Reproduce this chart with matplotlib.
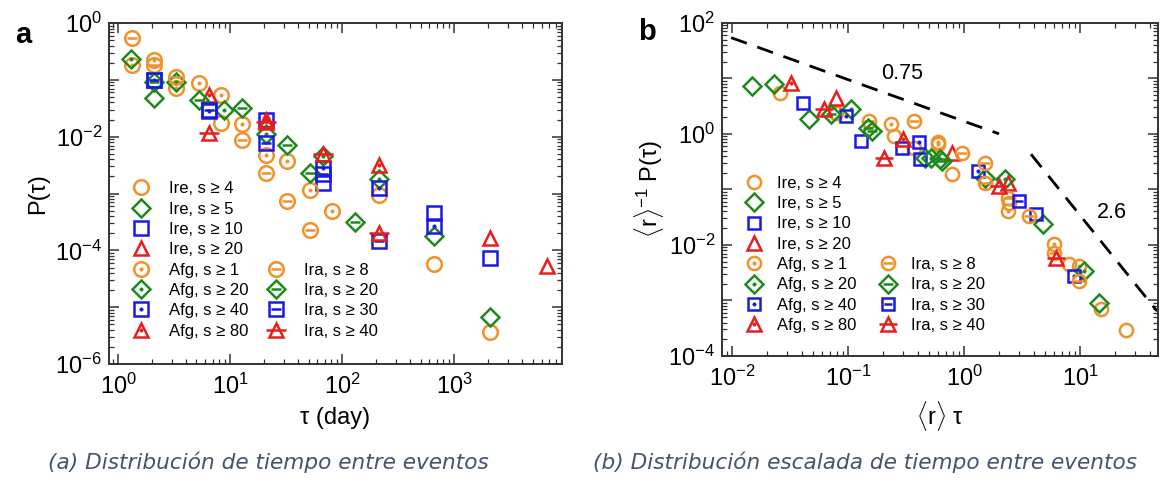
import matplotlib
matplotlib.use('Agg')
import matplotlib.pyplot as plt
from matplotlib.legend_handler import HandlerTuple
from matplotlib.ticker import LogLocator, FuncFormatter, NullFormatter
import numpy as np

plt.rcParams['font.family'] = ['Liberation Sans', 'DejaVu Sans']
plt.rcParams['mathtext.fontset'] = 'custom'
plt.rcParams['mathtext.rm'] = 'Liberation Sans'
plt.rcParams['mathtext.it'] = 'Liberation Sans:italic'

# colours
orange = '#F0922B'
green = '#1E8A1E'
blue = '#1A1AE6'
red = '#E61E1E'
caption_col = '#44546A'

# ---------------- panel a : P(tau) vs tau (day)
ire4_tau = [8.3, 211, 654, 2100]
ire4_p = [0.0174, 0.00096, 5.7e-5, 3.6e-6]
ire5_tau = [2.1, 654, 2100]
ire5_p = [0.048, 1.78e-4, 6.6e-6]
ire10_tau = [66.7, 654, 2100]
ire10_p = [0.00155, 4.6e-4, 7.4e-5]
ire20_tau = [2100, 6750]
ire20_p = [1.67e-4, 5.3e-5]

afg1_tau = [1.33, 2.1, 3.3, 5.3, 8.3, 12.8, 20.8, 32.4, 52, 81]
afg1_p = [0.18, 0.22, 0.071, 0.087, 0.055, 0.017, 0.0048, 0.0037, 0.00117, 0.00049]
afg20_tau = [1.3, 3.3, 8.8, 20.8, 66.7, 211]
afg20_p = [0.23, 0.093, 0.03, 0.011, 0.0045, 0.0018]
afg40_tau = [2.1, 6.5, 20.8, 66.7, 211, 654]
afg40_p = [0.1, 0.028, 0.02, 0.0028, 0.00126, 2.7e-4]
afg80_tau = [6.5, 20.8, 211]
afg80_p = [0.055, 0.02, 0.0032]

ira8_tau = [1.33, 2.1, 3.3, 12.8, 20.8, 32.4, 52]
ira8_p = [0.54, 0.18, 0.114, 0.0089, 0.0023, 0.00074, 0.00023]
ira20_tau = [2.1, 5.3, 12.8, 32.4, 52, 131]
ira20_p = [0.09, 0.045, 0.032, 0.0072, 0.0023, 0.00031]
ira30_tau = [2.1, 6.5, 20.8, 66.7, 211]
ira30_p = [0.1, 0.03, 0.0079, 0.0022, 1.45e-4]
ira40_tau = [6.5, 20.8, 66.7, 211]
ira40_p = [0.0117, 0.018, 0.005, 2.0e-4]

# ---------------- panel b : scaled
ire4_x = [0.0257, 0.0785, 0.248, 0.368, 0.78, 2.46, 8.05, 15.2, 25]
ire4_y = [5.5, 2.4, 0.92, 0.567, 0.19, 0.058, 0.0045, 7.1e-4, 2.9e-4]
ire5_x = [0.0147, 0.023, 0.046, 0.46, 1.5, 4.75, 14.6]
ire5_y = [7.3, 7.9, 1.84, 0.374, 0.163, 0.0236, 9.1e-4]
ire10_x = [0.041, 0.128, 0.292, 0.42, 4.17]
ire10_y = [3.66, 0.75, 0.567, 0.35, 0.036]
ire20_x = [0.0785, 0.78, 2.38]
ire20_y = [4.5, 0.46, 0.133]

afg1_x = [0.232, 0.60, 0.6, 2.38, 6.0, 9.8]
afg1_y = [1.5, 0.65, 0.70, 0.041, 0.0103, 0.0042]
afg20_x = [0.105, 0.52, 2.23, 10.8]
afg20_y = [2.8, 0.37, 0.152, 0.0034]
afg40_x = [0.096, 0.406, 1.32, 8.9]
afg40_y = [2.1, 0.70, 0.215, 0.0028]
afg80_x = [0.032, 0.30]
afg80_y = [8.4, 0.8]

ira8_x = [0.151, 0.368, 0.95, 1.5, 1.5, 2.38, 3.66, 6.0, 9.8]
ira8_y = [1.71, 1.71, 0.46, 0.30, 0.133, 0.071, 0.0335, 0.0073, 0.0022]
ira20_x = [0.071, 0.147, 0.16, 0.62, 0.64]
ira20_y = [2.26, 1.3, 1.13, 0.35, 0.33]
ira30_x = [3.0]
ira30_y = [0.062]
ira40_x = [0.062, 0.204, 2.0, 6.2]
ira40_y = [2.8, 0.374, 0.116, 0.0059]

# dashed guide lines (x ends, exponent)
guide1_x = [0.0098, 2.0]
guide1_exp = 0.75
guide1_y0 = 54.0
guide2_x = [3.77, 46.0]
guide2_exp = 2.6
guide2_y0 = 0.43

labels_ire = ['Ire, s ≥ 4', 'Ire, s ≥ 5', 'Ire, s ≥ 10', 'Ire, s ≥ 20']
labels_afg_a = ['Afg, s ≥ 1', 'Afg, s ≥ 20', 'Afg, s ≥ 40', 'Afg, s ≥ 80']
labels_ira = ['Ira, s ≥ 8', 'Ira, s ≥ 20', 'Ira, s ≥ 30', 'Ira, s ≥ 40']

##############################

def draw(ax, x, y, color, marker, inner=None, ms=10):
    h = ax.plot(x, y, ls='none', marker=marker, ms=ms, mfc='none', mec=color, mew=1.8)[0]
    if inner is None:
        return h
    if inner == 'dot':
        h2 = ax.plot(x, y, ls='none', marker='o', ms=2.4, mfc=color, mec=color, mew=0.5)[0]
    else:
        w = ms * 1.35 if marker == '^' else ms * 0.75
        h2 = ax.plot(x, y, ls='none', marker='_', ms=w, mew=1.8, color=color)[0]
    return (h, h2)

def style_axes(ax, xlim, ylim, ylab_step):
    ax.set_xscale('log')
    ax.set_yscale('log')
    ax.set_xlim(*xlim)
    ax.set_ylim(*ylim)
    ax.xaxis.set_major_locator(LogLocator(base=10, numticks=20))
    ax.yaxis.set_major_locator(LogLocator(base=10, numticks=20))
    ax.xaxis.set_minor_locator(LogLocator(base=10, subs=np.arange(2, 10), numticks=50))
    ax.yaxis.set_minor_locator(LogLocator(base=10, subs=np.arange(2, 10), numticks=50))
    ax.xaxis.set_major_formatter(FuncFormatter(lambda v, p: '$10^{%d}$' % round(np.log10(v))))
    ax.yaxis.set_major_formatter(FuncFormatter(
        lambda v, p: '$10^{%d}$' % round(np.log10(v)) if round(np.log10(v)) % ylab_step == 0 else ''))
    ax.xaxis.set_minor_formatter(NullFormatter())
    ax.yaxis.set_minor_formatter(NullFormatter())
    ax.tick_params(which='both', direction='in', top=True, right=True, labelsize=17, color='#333333')
    ax.tick_params(which='major', length=7, width=1.1)
    ax.tick_params(which='minor', length=3.5, width=0.9)
    ax.tick_params(axis='x', pad=7)
    ax.tick_params(axis='y', pad=5)
    for s in ax.spines.values():
        s.set_linewidth(1.4)
        s.set_color('#333333')

def make_legend(ax, handles, labels, anchor, tpad, cspace):
    blank = plt.Line2D([], [], ls='none', marker='none')
    hs = list(handles[:8]) + [blank] * 4 + list(handles[8:])
    ls = list(labels[:8]) + [''] * 4 + list(labels[8:])
    ax.legend(hs, ls, ncol=2, loc='upper left', bbox_to_anchor=anchor, frameon=False,
              fontsize=12, numpoints=1, handlelength=1.2, handletextpad=tpad,
              columnspacing=cspace, labelspacing=0.32, borderpad=0, borderaxespad=0,
              handler_map={tuple: HandlerTuple(ndivide=1)})

##############################

fig = plt.figure(figsize=(11.61, 4.90), dpi=100)
ax1 = fig.add_axes([0.0939, 0.257, 0.390, 0.696])
ax2 = fig.add_axes([0.622, 0.2735, 0.3755, 0.680])

all_labels = labels_ire + labels_afg_a + labels_ira

h = []
h.append(draw(ax1, ire4_tau, ire4_p, orange, 'o', ms=10.5))
h.append(draw(ax1, ire5_tau, ire5_p, green, 'D', ms=9.5))
h.append(draw(ax1, ire10_tau, ire10_p, blue, 's', ms=9.5))
h.append(draw(ax1, ire20_tau, ire20_p, red, '^', ms=10.5))
h.append(draw(ax1, afg1_tau, afg1_p, orange, 'o', 'dot', ms=10.5))
h.append(draw(ax1, afg20_tau, afg20_p, green, 'D', 'dot', ms=9.5))
h.append(draw(ax1, afg40_tau, afg40_p, blue, 's', 'dot', ms=9.5))
h.append(draw(ax1, afg80_tau, afg80_p, red, '^', 'dot', ms=10.5))
h.append(draw(ax1, ira8_tau, ira8_p, orange, 'o', 'line', ms=10.5))
h.append(draw(ax1, ira20_tau, ira20_p, green, 'D', 'line', ms=9.5))
h.append(draw(ax1, ira30_tau, ira30_p, blue, 's', 'line', ms=9.5))
h.append(draw(ax1, ira40_tau, ira40_p, red, '^', 'line', ms=10.5))
style_axes(ax1, (0.83, 9100), (1e-6, 1), 2)
make_legend(ax1, h, all_labels, (0.049, 0.536), 1.05, 1.08)
ax1.set_xlabel('τ (day)', fontsize=17, labelpad=6)
ax1.set_ylabel('P(τ)', fontsize=17, labelpad=4)

h = []
h.append(draw(ax2, ire4_x, ire4_y, orange, 'o', ms=9.5))
h.append(draw(ax2, ire5_x, ire5_y, green, 'D', ms=9))
h.append(draw(ax2, ire10_x, ire10_y, blue, 's', ms=8.5))
h.append(draw(ax2, ire20_x, ire20_y, red, '^', ms=9.5))
h.append(draw(ax2, afg1_x, afg1_y, orange, 'o', 'dot', ms=9.5))
h.append(draw(ax2, afg20_x, afg20_y, green, 'D', 'dot', ms=9))
h.append(draw(ax2, afg40_x, afg40_y, blue, 's', 'dot', ms=8.5))
h.append(draw(ax2, afg80_x, afg80_y, red, '^', 'dot', ms=9.5))
h.append(draw(ax2, ira8_x, ira8_y, orange, 'o', 'line', ms=9.5))
h.append(draw(ax2, ira20_x, ira20_y, green, 'D', 'line', ms=9))
h.append(draw(ax2, ira30_x, ira30_y, blue, 's', 'line', ms=8.5))
h.append(draw(ax2, ira40_x, ira40_y, red, '^', 'line', ms=9.5))

gx1 = np.array(guide1_x)
ax2.plot(gx1, guide1_y0 * (gx1 / gx1[0]) ** (-guide1_exp), color='black', lw=2, ls=(0, (6, 4)))
gx2 = np.array(guide2_x)
ax2.plot(gx2, guide2_y0 * (gx2 / gx2[0]) ** (-guide2_exp), color='black', lw=2, ls=(0, (6, 4)))
ax2.text(0.294, 12, '0.75', fontsize=15.5, ha='center', va='center')
ax2.text(18.9, 0.038, '2.6', fontsize=15.5, ha='center', va='center')

style_axes(ax2, (0.0082, 47), (1e-4, 100), 2)
make_legend(ax2, h, all_labels, (0.05, 0.541), 0.8, 1.26)
ax2.set_xlabel(r'$\langle$r$\rangle$ τ', fontsize=17, labelpad=6)
ax2.set_ylabel(r'$\langle$r$\rangle^{-1}$ P(τ)', fontsize=17, labelpad=2)

fig.text(0.020, 0.929, 'a', fontsize=21, fontweight='bold', ha='center', va='center')
fig.text(0.557, 0.935, 'b', fontsize=21, fontweight='bold', ha='center', va='center')

fig.text(0.231, 0.057, '(a) Distribución de tiempo entre eventos', fontsize=15.6,
         family='DejaVu Sans', style='italic', color=caption_col, ha='center', va='center')
fig.text(0.745, 0.057, '(b) Distribución escalada de tiempo entre eventos', fontsize=15.6,
         family='DejaVu Sans', style='italic', color=caption_col, ha='center', va='center')

plt.savefig('out.png', dpi=100)
plt.close()
